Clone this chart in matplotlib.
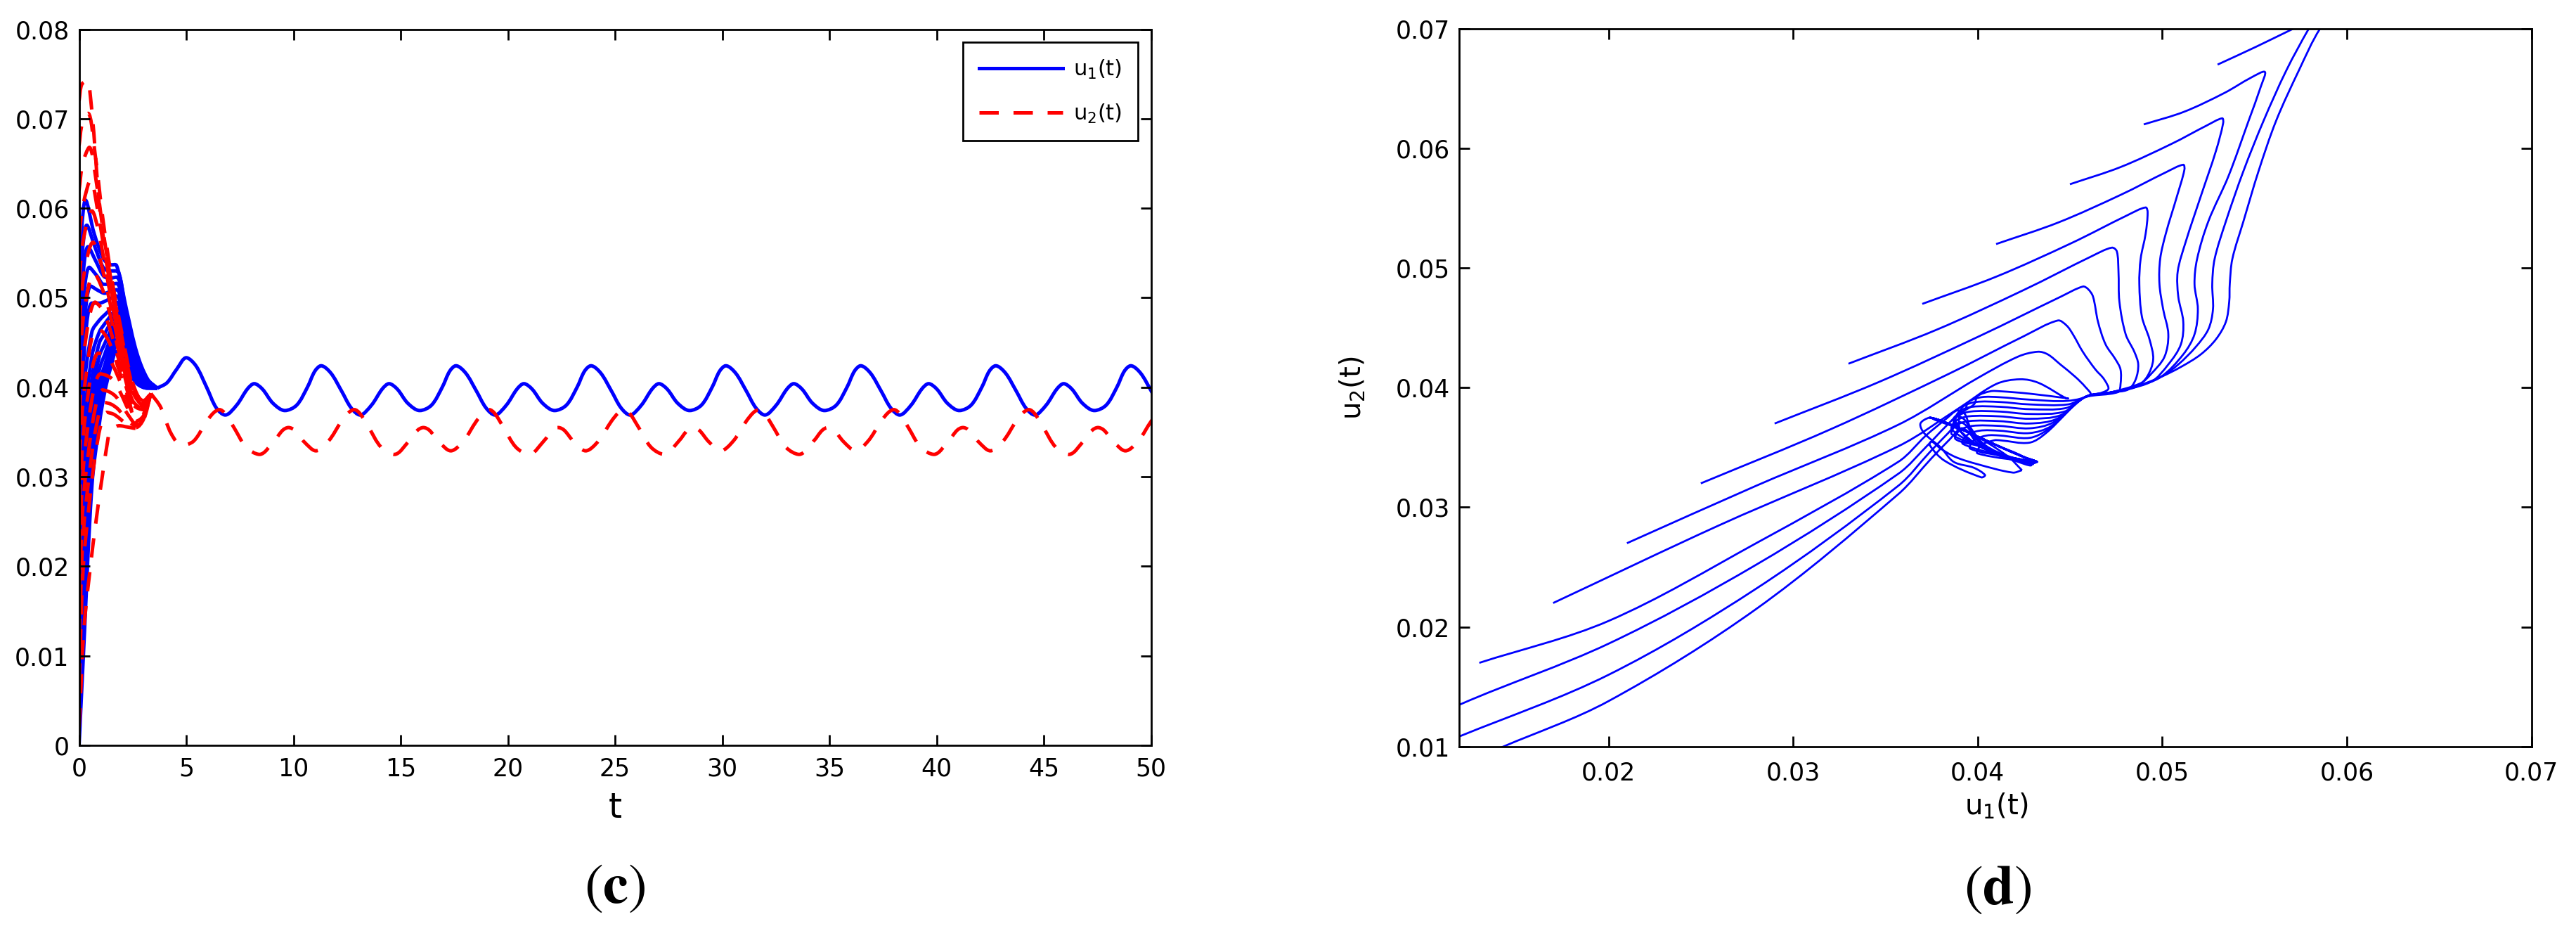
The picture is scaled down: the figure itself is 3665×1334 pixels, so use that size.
import numpy as np
import matplotlib
matplotlib.use("Agg")
import matplotlib.pyplot as plt
from matplotlib.path import Path
from matplotlib.patches import PathPatch
from matplotlib.lines import Line2D

# ------------------------------------------------------------------
# Panel (c): time series u1(t), u2(t)
# ------------------------------------------------------------------
t_ticks = [0, 5, 10, 15, 20, 25, 30, 35, 40, 45, 50]
c_yticks = [0, 0.01, 0.02, 0.03, 0.04, 0.05, 0.06, 0.07, 0.08]
c_ytick_labels = ["0", "0.01", "0.02", "0.03", "0.04", "0.05", "0.06", "0.07", "0.08"]

# transient parts of the blue (u1) trajectories
blue_tr_t = [
    [0, 0.12, 0.30, 0.70, 1.15, 1.45, 1.75, 2.2, 2.7, 3.2, 3.65],
    [0, 0.14, 0.36, 0.75, 1.15, 1.45, 1.75, 2.2, 2.7, 3.2, 3.65],
    [0, 0.16, 0.42, 0.80, 1.15, 1.45, 1.75, 2.2, 2.7, 3.2, 3.65],
    [0, 0.18, 0.48, 0.85, 1.15, 1.45, 1.75, 2.2, 2.7, 3.2, 3.65],
    [0, 0.20, 0.55, 0.90, 1.20, 1.45, 1.75, 2.2, 2.7, 3.2, 3.65],
] + [[0, 0.2, 0.6, 0.95, 1.2, 1.45, 1.75, 2.2, 2.7, 3.2, 3.65]] * 10
blue_tr_v = [
    [0.048, 0.0575, 0.0609, 0.0572, 0.0543, 0.0537, 0.0536, 0.0488, 0.0438, 0.0409, 0.0399],
    [0.044, 0.0545, 0.0581, 0.0556, 0.0533, 0.0530, 0.0530, 0.0483, 0.0434, 0.0408, 0.0399],
    [0.040, 0.0515, 0.0557, 0.0540, 0.0524, 0.0522, 0.0523, 0.0478, 0.0431, 0.0407, 0.0399],
    [0.036, 0.0485, 0.0534, 0.0524, 0.0515, 0.0515, 0.0516, 0.0473, 0.0428, 0.0406, 0.0399],
    [0.032, 0.0455, 0.0513, 0.0508, 0.0505, 0.0507, 0.0509, 0.0468, 0.0425, 0.0405, 0.0399],
    [0.028, 0.0425, 0.0494, 0.0494, 0.0496, 0.0499, 0.0502, 0.0463, 0.0422, 0.0404, 0.0399],
    [0.024, 0.0390, 0.0462, 0.0475, 0.0481, 0.0487, 0.0495, 0.0458, 0.0420, 0.0403, 0.0399],
    [0.020, 0.0350, 0.0435, 0.0462, 0.0471, 0.0479, 0.0488, 0.0453, 0.0417, 0.0402, 0.0399],
    [0.016, 0.0310, 0.0410, 0.0450, 0.0460, 0.0471, 0.0481, 0.0448, 0.0415, 0.0402, 0.0399],
    [0.012, 0.0270, 0.0390, 0.0435, 0.0449, 0.0462, 0.0474, 0.0443, 0.0413, 0.0401, 0.0399],
    [0.009, 0.0230, 0.0370, 0.0420, 0.0437, 0.0453, 0.0467, 0.0438, 0.0411, 0.0401, 0.0399],
    [0.006, 0.0190, 0.0350, 0.0405, 0.0425, 0.0444, 0.0460, 0.0434, 0.0409, 0.0400, 0.0399],
    [0.004, 0.0160, 0.0330, 0.0390, 0.0415, 0.0436, 0.0453, 0.0430, 0.0407, 0.0400, 0.0399],
    [0.002, 0.0130, 0.0310, 0.0375, 0.0405, 0.0428, 0.0446, 0.0426, 0.0405, 0.0399, 0.0399],
    [0.000, 0.0100, 0.0290, 0.0360, 0.0395, 0.0420, 0.0440, 0.0422, 0.0404, 0.0399, 0.0399],
]

# transient parts of the red (u2) trajectories
red_tr_t = [
    [0, 0.12, 0.36, 0.63, 1.00, 1.40, 1.95, 2.50, 3.0, 3.35],
    [0, 0.15, 0.42, 0.75, 1.10, 1.50, 2.00, 2.50, 3.0, 3.35],
    [0, 0.17, 0.48, 0.80, 1.15, 1.55, 2.00, 2.50, 3.0, 3.35],
    [0, 0.20, 0.55, 0.85, 1.20, 1.60, 2.05, 2.50, 3.0, 3.35],
    [0, 0.20, 0.60, 0.90, 1.25, 1.65, 2.05, 2.50, 3.0, 3.35],
    [0, 0.22, 0.65, 0.95, 1.30, 1.70, 2.10, 2.50, 3.0, 3.35],
    [0, 0.24, 0.70, 1.00, 1.35, 1.75, 2.15, 2.55, 3.0, 3.35],
    [0, 0.26, 0.75, 1.05, 1.40, 1.80, 2.20, 2.60, 3.0, 3.35],
    [0, 0.28, 0.80, 1.10, 1.45, 1.85, 2.25, 2.60, 3.0, 3.35],
    [0, 0.30, 0.90, 1.20, 1.50, 1.90, 2.30, 2.65, 3.0, 3.35],
    [0, 0.30, 1.00, 1.30, 1.60, 1.95, 2.30, 2.65, 3.0, 3.35],
    [0, 0.30, 1.10, 1.40, 1.70, 2.00, 2.35, 2.65, 3.0, 3.35],
    [0, 0.30, 1.20, 1.50, 1.80, 2.05, 2.35, 2.65, 3.0, 3.35],
    [0, 0.30, 1.30, 1.60, 1.85, 2.10, 2.40, 2.65, 3.0, 3.35],
    [0, 0.30, 1.40, 1.70, 1.90, 2.15, 2.40, 2.65, 3.0, 3.35],
]
red_tr_v = [
    [0.072, 0.0738, 0.0743, 0.0699, 0.0590, 0.0532, 0.0462, 0.0402, 0.0385, 0.0393],
    [0.067, 0.0695, 0.0706, 0.0660, 0.0590, 0.0525, 0.0460, 0.0405, 0.0384, 0.0393],
    [0.062, 0.0650, 0.0668, 0.0630, 0.0570, 0.0510, 0.0450, 0.0400, 0.0382, 0.0393],
    [0.057, 0.0605, 0.0632, 0.0600, 0.0550, 0.0495, 0.0440, 0.0395, 0.0380, 0.0393],
    [0.052, 0.0565, 0.0597, 0.0575, 0.0530, 0.0480, 0.0430, 0.0390, 0.0378, 0.0393],
    [0.047, 0.0525, 0.0562, 0.0545, 0.0510, 0.0465, 0.0420, 0.0385, 0.0376, 0.0393],
    [0.042, 0.0485, 0.0528, 0.0515, 0.0490, 0.0450, 0.0410, 0.0380, 0.0375, 0.0393],
    [0.037, 0.0445, 0.0495, 0.0488, 0.0468, 0.0435, 0.0400, 0.0375, 0.0373, 0.0393],
    [0.032, 0.0405, 0.0465, 0.0462, 0.0448, 0.0420, 0.0392, 0.0370, 0.0372, 0.0393],
    [0.027, 0.0370, 0.0438, 0.0436, 0.0428, 0.0407, 0.0383, 0.0366, 0.0370, 0.0393],
    [0.022, 0.0335, 0.0415, 0.0413, 0.0408, 0.0393, 0.0375, 0.0362, 0.0368, 0.0393],
    [0.017, 0.0300, 0.0397, 0.0395, 0.0390, 0.0380, 0.0367, 0.0359, 0.0366, 0.0393],
    [0.012, 0.0265, 0.0383, 0.0381, 0.0376, 0.0369, 0.0361, 0.0357, 0.0365, 0.0393],
    [0.007, 0.0230, 0.0372, 0.0370, 0.0366, 0.0361, 0.0357, 0.0355, 0.0364, 0.0393],
    [0.002, 0.0150, 0.0350, 0.0356, 0.0357, 0.0356, 0.0355, 0.0354, 0.0363, 0.0393],
]

# times of the large u1 maxima of the settled oscillation
big_peak_t = [5.0, 11.29, 17.58, 23.88, 30.17, 36.46, 42.76, 49.06]

# settled u1: lead-in, then one period (times relative to a large maximum)
u1_lead_t = [3.65, 4.1, 4.55, 5.0, 5.45, 5.95]
u1_lead_v = [0.0399, 0.0405, 0.0420, 0.0433, 0.0424, 0.0400]
u1_shape_dt = [0.0, 0.45, 0.95, 1.4, 1.82, 2.35, 2.85, 3.17, 3.55, 4.05, 4.6, 5.15, 5.65, 6.0]
u1_shape_v = [0.0424, 0.0416, 0.0396, 0.0377, 0.0369, 0.0380, 0.0398, 0.0404, 0.0398,
              0.0382, 0.0374, 0.0380, 0.0400, 0.0418]

# settled u2
u2_lead_t = [3.35, 3.8, 4.3, 4.8]
u2_lead_v = [0.0393, 0.0378, 0.0348, 0.0335]
u2_shape_dt = [0.35, 0.95, 1.3, 1.55, 1.8, 2.2, 2.8, 3.42, 4.1, 4.5, 4.77, 5.05, 5.5, 6.05]
u2_shape_v = [0.0340, 0.0362, 0.0372, 0.0375, 0.0371, 0.0356, 0.0333, 0.0325, 0.0340,
              0.0352, 0.0355, 0.0352, 0.0339, 0.0329]

# ------------------------------------------------------------------
# Panel (d): phase plane u1 - u2
# ------------------------------------------------------------------
d_xticks = [0.02, 0.03, 0.04, 0.05, 0.06, 0.07]
d_yticks = [0.01, 0.02, 0.03, 0.04, 0.05, 0.06, 0.07]

# trajectories coming from above the attractor (start -> turn -> descent to the common branch)
phase_u1 = [
    [0.017, 0.026, 0.0357, 0.0390, 0.0410, 0.0423, 0.0433, 0.0448],
    [0.021, 0.028, 0.0357, 0.0400, 0.0422, 0.04326, 0.0438, 0.04448, 0.0453, 0.04584, 0.04611],
    [0.025, 0.032, 0.0385, 0.0425, 0.04434, 0.04482, 0.04516, 0.0457, 0.04638, 0.04686, 0.04706],
    [0.029, 0.03457, 0.04013, 0.0445, 0.0457, 0.04598, 0.04625, 0.04652, 0.04693, 0.04747, 0.04774, 0.04774, 0.04761],
    [0.033, 0.03776, 0.04251, 0.0462, 0.04727, 0.04754, 0.04763, 0.04768, 0.04802, 0.04849, 0.0487, 0.04856, 0.04815],
    [0.037, 0.04103, 0.04507, 0.0481, 0.0491, 0.04921, 0.0491, 0.04883, 0.04876, 0.0489, 0.04931, 0.04951, 0.04917, 0.04856],
    [0.041, 0.04438, 0.04776, 0.0502, 0.05114, 0.0512, 0.0508, 0.05019, 0.04989, 0.04985, 0.05005, 0.05033, 0.05012, 0.04937, 0.04883],
    [0.045, 0.04775, 0.0505, 0.0524, 0.05325, 0.0533, 0.05291, 0.05209, 0.05128, 0.05084, 0.05087, 0.05114, 0.05101, 0.05033, 0.04937],
    [0.049, 0.05119, 0.05337, 0.0548, 0.05556, 0.05536, 0.05468, 0.05359, 0.0525, 0.05189, 0.05175, 0.05193, 0.05175, 0.05114, 0.04992, 0.0486],
    [0.053, 0.0551, 0.0571, 0.0578, 0.0582, 0.05794, 0.05672, 0.05549, 0.0544, 0.05345, 0.05284, 0.05271, 0.05275, 0.0525, 0.05182, 0.05087, 0.04992, 0.0486],
    [0.057, 0.0590, 0.0603, 0.0605, 0.0600, 0.05855, 0.0574, 0.05617, 0.05522, 0.0544, 0.0538, 0.05366, 0.05363, 0.05345, 0.05291, 0.05209, 0.05101, 0.04992, 0.0486],
]
phase_u2 = [
    [0.022, 0.0285, 0.0351, 0.0383, 0.0403, 0.0407, 0.0404, 0.0391],
    [0.027, 0.0318, 0.0369, 0.0408, 0.0426, 0.0430, 0.04278, 0.04194, 0.04089, 0.04005, 0.03942],
    [0.032, 0.0365, 0.0412, 0.0443, 0.04561, 0.04519, 0.04446, 0.04299, 0.04152, 0.04068, 0.03984],
    [0.037, 0.04042, 0.04433, 0.0476, 0.04845, 0.04824, 0.04761, 0.04551, 0.04362, 0.04236, 0.04152, 0.04026, 0.03963],
    [0.042, 0.04483, 0.04817, 0.0510, 0.0517, 0.05139, 0.04971, 0.04719, 0.04446, 0.04299, 0.04194, 0.04068, 0.03984],
    [0.047, 0.04929, 0.05207, 0.0544, 0.05506, 0.05464, 0.05285, 0.05076, 0.04866, 0.04593, 0.04404, 0.04236, 0.04089, 0.04005],
    [0.052, 0.05381, 0.05612, 0.0580, 0.05863, 0.0582, 0.0560, 0.05285, 0.05076, 0.04866, 0.04656, 0.04446, 0.04257, 0.0411, 0.04037],
    [0.057, 0.05844, 0.06037, 0.0619, 0.06251, 0.0621, 0.05978, 0.0560, 0.05222, 0.04971, 0.04761, 0.04551, 0.04362, 0.04194, 0.04047],
    [0.062, 0.06306, 0.06463, 0.0659, 0.06639, 0.06524, 0.0623, 0.05768, 0.0539, 0.05076, 0.04866, 0.04656, 0.04446, 0.04278, 0.04089, 0.0401],
    [0.067, 0.0685, 0.0700, 0.0705, 0.0705, 0.0700, 0.0665, 0.0623, 0.0581, 0.0539, 0.05076, 0.04866, 0.04656, 0.04488, 0.04341, 0.04194, 0.04089, 0.0401],
    [0.072, 0.0735, 0.0743, 0.0740, 0.0728, 0.0700, 0.0665, 0.0623, 0.0581, 0.0539, 0.05076, 0.04866, 0.04719, 0.04551, 0.04404, 0.04278, 0.04173, 0.04089, 0.0401],
]
# where each of them leaves the merged branch, and the level / left end of its sweep to the left
wedge_u1 = [0.0449, 0.0449, 0.0449, 0.0448, 0.0447, 0.0445, 0.0443, 0.0441, 0.0440, 0.0438, 0.0437]
wedge_u2 = [0.0391, 0.0389, 0.0386, 0.0383, 0.0380, 0.0377, 0.0374, 0.0371, 0.0368, 0.0365, 0.0362]
phase_fan = [0.0396, 0.0391, 0.0387, 0.0383, 0.0379, 0.0375, 0.0371, 0.0367, 0.0363, 0.0359, 0.0355]
phase_fan_left = [0.0400, 0.0395, 0.0392, 0.0390, 0.0389, 0.0388, 0.0388, 0.0390, 0.0394, 0.0398, 0.0402]

# trajectories coming from the lower left (they cross the loops and run down the left band)
low_u1 = [
    [0.013, 0.020, 0.028, 0.0357, 0.0372, 0.0383, 0.0389, 0.0393, 0.0396, 0.0404, 0.0418, 0.0432],
    [0.008, 0.012, 0.020, 0.028, 0.0357, 0.0373, 0.0383, 0.0389, 0.0393, 0.0397, 0.0405, 0.0419, 0.0431],
    [0.006, 0.012, 0.020, 0.028, 0.0357, 0.0374, 0.0384, 0.0390, 0.0394, 0.0398, 0.0406, 0.0420, 0.0430],
    [0.010, 0.0143, 0.020, 0.028, 0.0357, 0.0375, 0.0385, 0.0391, 0.0395, 0.0399, 0.0407, 0.0420, 0.0429],
]
low_u2 = [
    [0.017, 0.0205, 0.027, 0.0338, 0.0360, 0.0374, 0.0381, 0.0378, 0.0367, 0.0352, 0.0342, 0.0338],
    [0.0105, 0.01355, 0.0186, 0.0252, 0.0328, 0.0352, 0.0368, 0.0376, 0.0373, 0.0363, 0.0350, 0.0341, 0.0337],
    [0.0072, 0.0109, 0.0160, 0.0232, 0.0318, 0.0346, 0.0362, 0.0371, 0.0368, 0.0359, 0.0348, 0.0340, 0.0336],
    [0.0072, 0.0100, 0.0138, 0.0215, 0.0311, 0.0341, 0.0357, 0.0366, 0.0363, 0.0355, 0.0346, 0.0339, 0.0335],
]

# merged branch, lower-left band and return branch of the attractor
branch_u1 = [0.0472, 0.0458]
branch_u2 = [0.0396, 0.0392]
diag_u1 = [0.0387, 0.0391, 0.0401, 0.0417, 0.0432]
diag_u2 = [0.0374, 0.0363, 0.0351, 0.0342, 0.0338]
ret_u1 = [0.0425, 0.0410, 0.0393, 0.0379, 0.0374]
ret_u2 = [0.0342, 0.0352, 0.0364, 0.0373, 0.0375]

# settled cycle
cycle_u1 = [0.0424, 0.0416, 0.0396, 0.0377, 0.0374, 0.0369, 0.0371, 0.0380, 0.0387, 0.0398,
            0.0404, 0.0402, 0.0382, 0.0374, 0.0375, 0.0380, 0.0388, 0.0400, 0.0419, 0.0424]
cycle_u2 = [0.0331, 0.0343, 0.0362, 0.0373, 0.0375, 0.0370, 0.0362, 0.0350, 0.0338, 0.0333,
            0.0327, 0.0325, 0.0339, 0.0352, 0.0355, 0.0349, 0.0342, 0.0336, 0.0329, 0.0331]

# ------------------------------------------------------------------
W, H = 3665, 1334
fig = plt.figure(figsize=(W / 100, H / 100), dpi=100)
plt.rcParams["font.family"] = ["DejaVu Sans"]

def smooth(ax, x, y, monotone=False, **kw):
    """Smooth curve through the given points (cubic Bezier path via the axes transform)."""
    pts = ax.transData.transform(np.column_stack([x, y]).astype(float))
    n = len(pts)
    d = np.hypot(*np.diff(pts, axis=0).T)
    d[d < 1e-6] = 1e-6
    tan = np.zeros_like(pts)
    for i in range(n):
        if i == 0:
            tan[i] = (pts[1] - pts[0]) / d[0]
        elif i == n - 1:
            tan[i] = (pts[-1] - pts[-2]) / d[-1]
        else:
            tan[i] = (pts[i + 1] - pts[i - 1]) / (d[i - 1] + d[i])
            if monotone and (pts[i, 1] - pts[i - 1, 1]) * (pts[i + 1, 1] - pts[i, 1]) <= 0:
                tan[i, 1] = 0.0
    verts = [pts[0]]
    codes = [Path.MOVETO]
    for i in range(n - 1):
        verts += [pts[i] + tan[i] * d[i] / 3, pts[i + 1] - tan[i + 1] * d[i] / 3, pts[i + 1]]
        codes += [Path.CURVE4] * 3
    verts = ax.transData.inverted().transform(np.array(verts))
    patch = PathPatch(Path(verts, codes), fill=False, joinstyle="round", **kw)
    ax.add_patch(patch)
    return patch

def style_axes(ax):
    for s in ax.spines.values():
        s.set_linewidth(2.0)
    ax.tick_params(direction="in", length=10.8, width=2.0, top=True, right=True,
                   labelsize=25, colors="k")

BLUE = (0, 0, 1)
RED = (1, 0, 0)
LW = 3.6
DASH = (0, (5.5, 4.2))

# ---------------- panel (c) ----------------
axc = fig.add_axes([112.5 / W, 1 - 1060 / H, 1525 / W, 1018.5 / H])
axc.set_xlim(0, 50)
axc.set_ylim(0, 0.08)
axc.set_xticks(t_ticks)
axc.set_xticklabels([str(v) for v in t_ticks])
axc.set_yticks(c_yticks)
axc.set_yticklabels(c_ytick_labels)
style_axes(axc)
axc.tick_params(axis="x", pad=12)
axc.tick_params(axis="y", pad=10)

for tt, vv in zip(blue_tr_t, blue_tr_v):
    smooth(axc, tt, vv, monotone=True, edgecolor=BLUE, lw=LW)
u1_t = list(u1_lead_t)
u1_v = list(u1_lead_v)
for n, p in enumerate(big_peak_t):
    for dt, v in zip(u1_shape_dt, u1_shape_v):
        if n == 0 and dt < 1.4:
            continue
        u1_t.append(p + dt)
        u1_v.append(v)
smooth(axc, u1_t, u1_v, monotone=True, edgecolor=BLUE, lw=LW)

for tt, vv in zip(red_tr_t, red_tr_v):
    smooth(axc, tt, vv, monotone=True, edgecolor=RED, lw=LW, linestyle=DASH, capstyle="butt")
u2_t = list(u2_lead_t)
u2_v = list(u2_lead_v)
for p in big_peak_t:
    for dt, v in zip(u2_shape_dt, u2_shape_v):
        u2_t.append(p + dt)
        u2_v.append(v)
smooth(axc, u2_t, u2_v, monotone=True, edgecolor=RED, lw=LW, linestyle=DASH, capstyle="butt")

axc.text(0.5, (1060 - 1163) / 1018.5, "t", transform=axc.transAxes, ha="center",
         va="baseline", fontsize=35)

handles = [Line2D([], [], color=BLUE, lw=LW),
           Line2D([], [], color=RED, lw=LW, linestyle=DASH, dash_capstyle="butt")]
leg = axc.legend(handles, ["u$_1$(t)", "u$_2$(t)"], loc="upper right", fontsize=22,
                 frameon=True, fancybox=False, framealpha=1, edgecolor="k",
                 handlelength=3.9, handletextpad=0.5, borderaxespad=0.6,
                 labelspacing=1.0, borderpad=0.75)
leg.get_frame().set_linewidth(2.0)

# ---------------- panel (d) ----------------
axd = fig.add_axes([2075.8 / W, 1 - 1061.8 / H, 1525.7 / W, 1021 / H])
axd.set_xlim(0.0119, 0.07)
axd.set_ylim(0.01, 0.07)
axd.set_xticks(d_xticks)
axd.set_xticklabels(["%.2f" % v for v in d_xticks])
axd.set_yticks(d_yticks)
axd.set_yticklabels(["%.2f" % v for v in d_yticks])
style_axes(axd)
axd.tick_params(axis="x", pad=15)
axd.tick_params(axis="y", pad=9)

PLW = 2.0

for i, (xs, ys) in enumerate(zip(phase_u1, phase_u2)):
    f, fl = phase_fan[i], phase_fan_left[i]
    px = list(xs)
    py = list(ys)
    for a, b in zip(branch_u1, branch_u2):
        if a < px[-1] - 0.0006:
            px.append(a)
            py.append(b)
    px += [wedge_u1[i], 0.0428, 0.0412, fl + 0.0007, fl, fl - 0.0002]
    py += [wedge_u2[i], f - 0.0001, f + 0.0001, f + 0.0001, f - 0.0003, f - 0.0010]
    for a, b in zip(diag_u1, diag_u2):
        if b < f - 0.0014:
            px.append(a)
            py.append(b)
    px += ret_u1
    py += ret_u2
    smooth(axd, px, py, edgecolor=BLUE, lw=PLW)

for xs, ys in zip(low_u1, low_u2):
    smooth(axd, list(xs) + ret_u1, list(ys) + ret_u2, edgecolor=BLUE, lw=PLW)
smooth(axd, cycle_u1, cycle_u2, edgecolor=BLUE, lw=PLW)

axd.text((2840 - 2075.8) / 1525.7, (1061.8 - 1158) / 1021, "u$_1$(t)",
         transform=axd.transAxes, ha="center", va="baseline", fontsize=29)
axd.text((1925 - 2075.8) / 1525.7, 0.5, "u$_2$(t)", transform=axd.transAxes,
         ha="center", va="center", rotation=90, fontsize=29)

# panel letters
fig.text(875 / W, 1 - 1262 / H, r"$(\mathbf{c})$", ha="center", va="center",
         fontsize=58, math_fontfamily="stix")
fig.text(2842 / W, 1 - 1264 / H, r"$(\mathbf{d})$", ha="center", va="center",
         fontsize=58, math_fontfamily="stix")

fig.savefig("out.png", dpi=100)
